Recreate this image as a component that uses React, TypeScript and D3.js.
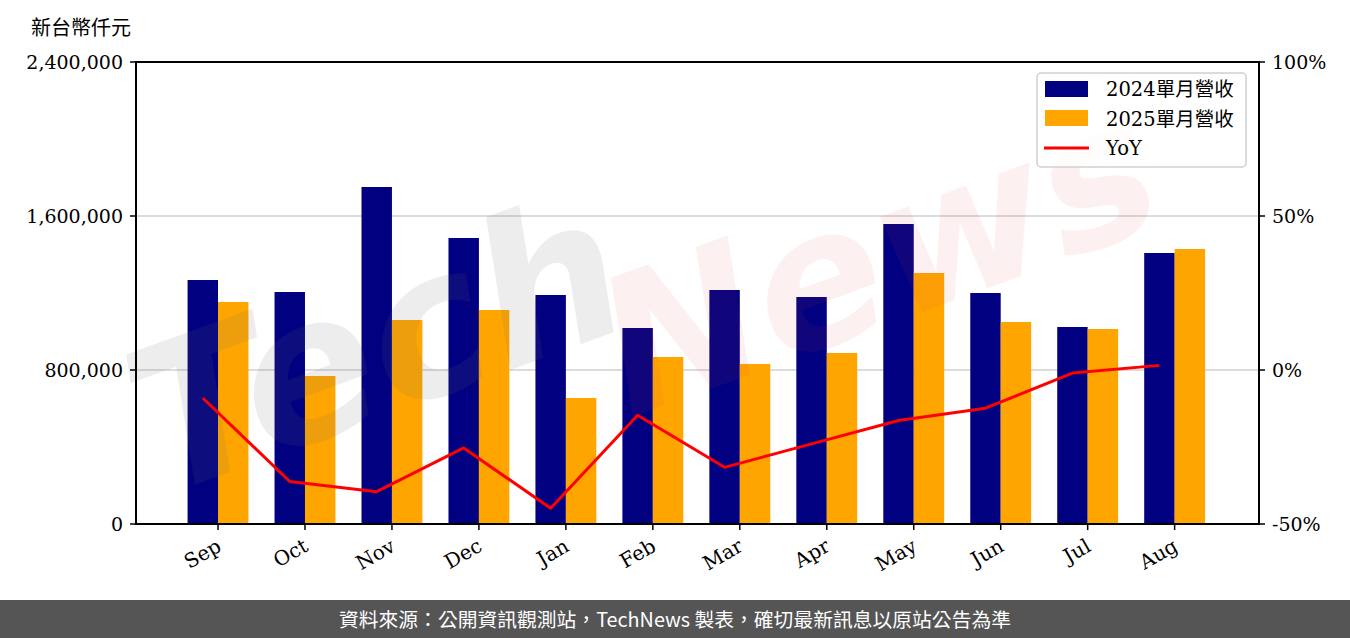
import React from "react";
import * as d3 from "d3";

const months = ["Sep", "Oct", "Nov", "Dec", "Jan", "Feb", "Mar", "Apr", "May", "Jun", "Jul", "Aug"];
const rev2024 = [1267500, 1205200, 1750600, 1485700, 1189600, 1018200, 1215600, 1179200, 1558400, 1200000, 1023400, 1407800];
const rev2025 = [1153200, 768800, 1059700, 1111700, 654500, 867500, 831200, 888300, 1303900, 1049400, 1013000, 1428600];
const yoy = [-9.1, -36.2, -39.5, -25.3, -44.9, -14.7, -31.6, -24.0, -16.4, -12.4, -1.0, 1.5];
const leftTicks = [0, 800000, 1600000, 2400000];
const rightTicks = [-50, 0, 50, 100];
const legendLabels = ["2024單月營收", "2025單月營收", "YoY"];

const W = 1350;
const H = 638;
const L = 136, R = 1259, T = 62, B = 524;
const serif = "'DejaVu Serif', 'Noto Sans CJK TC', serif";
const cjk = "'Noto Sans CJK TC', sans-serif";

export default function App() {
  const x = d3.scaleLinear().domain([-0.943, 11.97]).range([L, R]);
  const y = d3.scaleLinear().domain([0, 2400000]).range([B, T]);
  const y2 = d3.scaleLinear().domain([-50, 100]).range([B, T]);
  const bw = 0.35;
  const fmt = d3.format(",");
  const line = d3
    .line<number>()
    .x((_, i) => x(i - bw / 2))
    .y((d) => y2(d));

  return (
    <svg width={W} height={H} style={{ position: "absolute", left: 0, top: 0, background: "#fff" }}>
      <rect x={0} y={0} width={W} height={H} fill="#fff" />
      {/* grid */}
      {leftTicks.slice(1, 3).map((t) => (
        <line key={t} x1={L} x2={R} y1={y(t)} y2={y(t)} stroke="#d0d0d0" strokeWidth={1.5} />
      ))}
      {/* bars */}
      {rev2024.map((v, i) => (
        <rect key={"a" + i} x={x(i - bw)} width={x(bw) - x(0)} y={y(v)} height={y(0) - y(v)} fill="#000080" />
      ))}
      {rev2025.map((v, i) => (
        <rect key={"b" + i} x={x(i)} width={x(bw) - x(0)} y={y(v)} height={y(0) - y(v)} fill="#FFA500" />
      ))}
      {/* watermark */}
      <g style={{ pointerEvents: "none" }}>
        <text
          x={400}
          y={410}
          transform="rotate(-20 400 410)"
          fontFamily="'DejaVu Sans', sans-serif"
          fontStyle="italic"
          fontWeight="bold"
          fontSize={200}
          fill="rgba(110,110,110,0.12)"
          textAnchor="middle"
        >
          Tech
        </text>
        <text
          x={900}
          y={320}
          transform="rotate(-20 900 320)"
          fontFamily="'DejaVu Sans', sans-serif"
          fontStyle="italic"
          fontWeight="bold"
          fontSize={190}
          fill="rgba(215,60,60,0.08)"
          textAnchor="middle"
        >
          News
        </text>
      </g>
      {/* yoy line */}
      <path d={line(yoy) || ""} fill="none" stroke="#ff0000" strokeWidth={3} strokeLinejoin="round" />
      {/* frame */}
      <rect x={L} y={T} width={R - L} height={B - T} fill="none" stroke="#000" strokeWidth={2} />
      {/* left ticks */}
      {leftTicks.map((t) => (
        <g key={t}>
          <line x1={L - 6} x2={L} y1={y(t)} y2={y(t)} stroke="#000" strokeWidth={1.5} />
          <text x={L - 13} y={y(t)} dy="0.36em" textAnchor="end" fontFamily={serif} fontSize={19} fill="#000">
            {fmt(t)}
          </text>
        </g>
      ))}
      {/* right ticks */}
      {rightTicks.map((t) => (
        <g key={t}>
          <line x1={R} x2={R + 6} y1={y2(t)} y2={y2(t)} stroke="#000" strokeWidth={1.5} />
          <text x={R + 13} y={y2(t)} dy="0.36em" textAnchor="start" fontFamily={serif} fontSize={19} fill="#000">
            {t + "%"}
          </text>
        </g>
      ))}
      {/* bottom ticks */}
      {months.map((m, i) => (
        <g key={m}>
          <line x1={x(i)} x2={x(i)} y1={B} y2={B + 6} stroke="#000" strokeWidth={1.5} />
          <text
            transform={`translate(${x(i) - 3},${B + 13}) rotate(-30)`}
            textAnchor="end"
            dy="0.75em"
            fontFamily={serif}
            fontSize={20}
            fill="#000"
          >
            {m}
          </text>
        </g>
      ))}
      {/* unit label */}
      <text x={31} y={35} fontFamily={cjk} fontSize={20} fill="#000">
        新台幣仟元
      </text>
      {/* legend */}
      <g>
        <rect x={1037} y={73} width={209} height={94} rx={4} fill="rgba(255,255,255,0.8)" stroke="#d0d0d0" strokeWidth={1.5} />
        <rect x={1045} y={81} width={43} height={16} fill="#000080" />
        <rect x={1045} y={110} width={43} height={16} fill="#FFA500" />
        <line x1={1044} x2={1089} y1={148} y2={148} stroke="#ff0000" strokeWidth={3} />
        {legendLabels.map((l, i) => (
          <text key={l} x={1106} y={89 + i * 29.5} dy="0.36em" fontFamily={serif} fontSize={19.5} fill="#000">
            {l}
          </text>
        ))}
      </g>
      {/* footer */}
      <rect x={0} y={600} width={W} height={38} fill="#555555" />
      <text x={W / 2} y={620} dy="0.35em" textAnchor="middle" fontFamily={cjk} fontSize={19.8} fill="#fff">
        資料來源：公開資訊觀測站，TechNews 製表，確切最新訊息以原站公告為準
      </text>
    </svg>
  );
}
